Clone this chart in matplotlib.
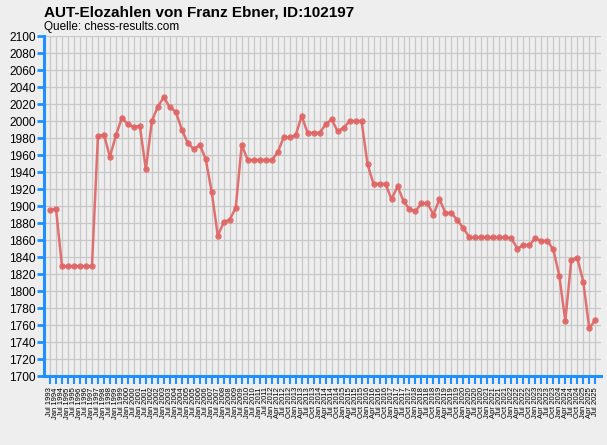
import matplotlib
matplotlib.use('Agg')
import matplotlib.pyplot as plt

# ── Data ───────────────────────────────────────────────────────────────────
periods = [
    'Jul 1993', 'Jan 1994', 'Jul 1994', 'Jan 1995', 'Jul 1995', 'Jan 1996',
    'Jul 1996', 'Jan 1997', 'Jul 1997', 'Jan 1998', 'Jul 1998', 'Jan 1999',
    'Jul 1999', 'Jan 2000', 'Jul 2000', 'Jan 2001', 'Jul 2001', 'Jan 2002',
    'Jul 2002', 'Jan 2003', 'Jul 2003', 'Jan 2004', 'Jul 2004', 'Jan 2005',
    'Jul 2005', 'Jan 2006', 'Jul 2006', 'Jan 2007', 'Jul 2007', 'Jan 2008',
    'Jul 2008', 'Jan 2009', 'Jul 2009', 'Jan 2010', 'Jul 2010', 'Jan 2011',
    'Jul 2011', 'Jan 2012',
    'Apr 2012', 'Jul 2012', 'Oct 2012', 'Jan 2013', 'Apr 2013', 'Jul 2013',
    'Oct 2013', 'Jan 2014', 'Apr 2014', 'Jul 2014', 'Oct 2014', 'Jan 2015',
    'Apr 2015', 'Jul 2015', 'Oct 2015', 'Jan 2016', 'Apr 2016', 'Jul 2016',
    'Oct 2016', 'Jan 2017', 'Apr 2017', 'Jul 2017', 'Oct 2017', 'Jan 2018',
    'Apr 2018', 'Jul 2018', 'Oct 2018', 'Jan 2019', 'Apr 2019', 'Jul 2019',
    'Oct 2019', 'Jan 2020', 'Apr 2020', 'Jul 2020', 'Oct 2020', 'Jan 2021',
    'Apr 2021', 'Jul 2021', 'Oct 2021', 'Jan 2022', 'Apr 2022', 'Jul 2022',
    'Oct 2022', 'Jan 2023', 'Apr 2023', 'Jul 2023', 'Oct 2023', 'Jan 2024',
    'Apr 2024', 'Jul 2024', 'Oct 2024', 'Jan 2025', 'Apr 2025', 'Jul 2025',
]

elo = [
    1895, 1897, 1829, 1829, 1829, 1829, 1829, 1829, 1982, 1984,
    1958, 1983, 2004, 1996, 1993, 1994, 1943, 2000, 2017, 2028,
    2016, 2011, 1990, 1974, 1967, 1972, 1955, 1916, 1865, 1881,
    1884, 1898, 1972, 1954, 1954, 1954, 1954, 1954, 1963, 1981,
    1981, 1983, 2006, 1986, 1986, 1986, 1996, 2002, 1988, 1992,
    2000, 2000, 2000, 1949, 1926, 1926, 1926, 1908, 1923, 1906,
    1896, 1894, 1903, 1903, 1890, 1908, 1892, 1892, 1883, 1874,
    1863, 1863, 1863, 1863, 1863, 1863, 1863, 1862, 1850, 1854,
    1854, 1862, 1859, 1859, 1849, 1818, 1765, 1836, 1839, 1811,
    1756, 1766,
]

y_ticks = list(range(1700, 2101, 20))

# ── Style ──────────────────────────────────────────────────────────────────
plt.rcParams['font.family'] = ['Liberation Sans', 'DejaVu Sans']
bg = '#eeeeee'
axis_blue = '#1e90ff'
line_red = '#e06464'

fig = plt.figure(figsize=(6.07, 4.45), dpi=100, facecolor=bg)
ax = fig.add_axes([0.0725, 0.155, 0.918, 0.764], facecolor=bg)

x = list(range(len(elo)))
ax.plot(x, elo, color=line_red, lw=1.8, alpha=0.9, marker='o',
        markersize=4.6, markeredgewidth=0, zorder=3)

ax.set_xlim(-1, len(elo))
ax.set_ylim(1700, 2100)
ax.set_yticks(y_ticks)
ax.set_xticks(x)
ax.set_xticklabels(periods, rotation=90, fontsize=5.5, va='top')
ax.tick_params(axis='y', labelsize=8.6, length=5, width=2, color=axis_blue, pad=1)
ax.tick_params(axis='x', length=6, width=1.5, color=axis_blue, pad=2)

ax.grid(True, color='#c8c8c8', lw=0.9)
ax.set_axisbelow(True)

for side in ('top', 'right'):
    ax.spines[side].set_visible(False)
for side in ('left', 'bottom'):
    ax.spines[side].set_color(axis_blue)
    ax.spines[side].set_linewidth(2.2)

fig.text(0.0725, 0.972, 'AUT-Elozahlen von Franz Ebner, ID:102197',
         fontsize=11, fontweight='bold', va='center', ha='left')
fig.text(0.0725, 0.94, 'Quelle: chess-results.com',
         fontsize=8.5, va='center', ha='left')

fig.savefig('out.png', dpi=100, facecolor=bg)
